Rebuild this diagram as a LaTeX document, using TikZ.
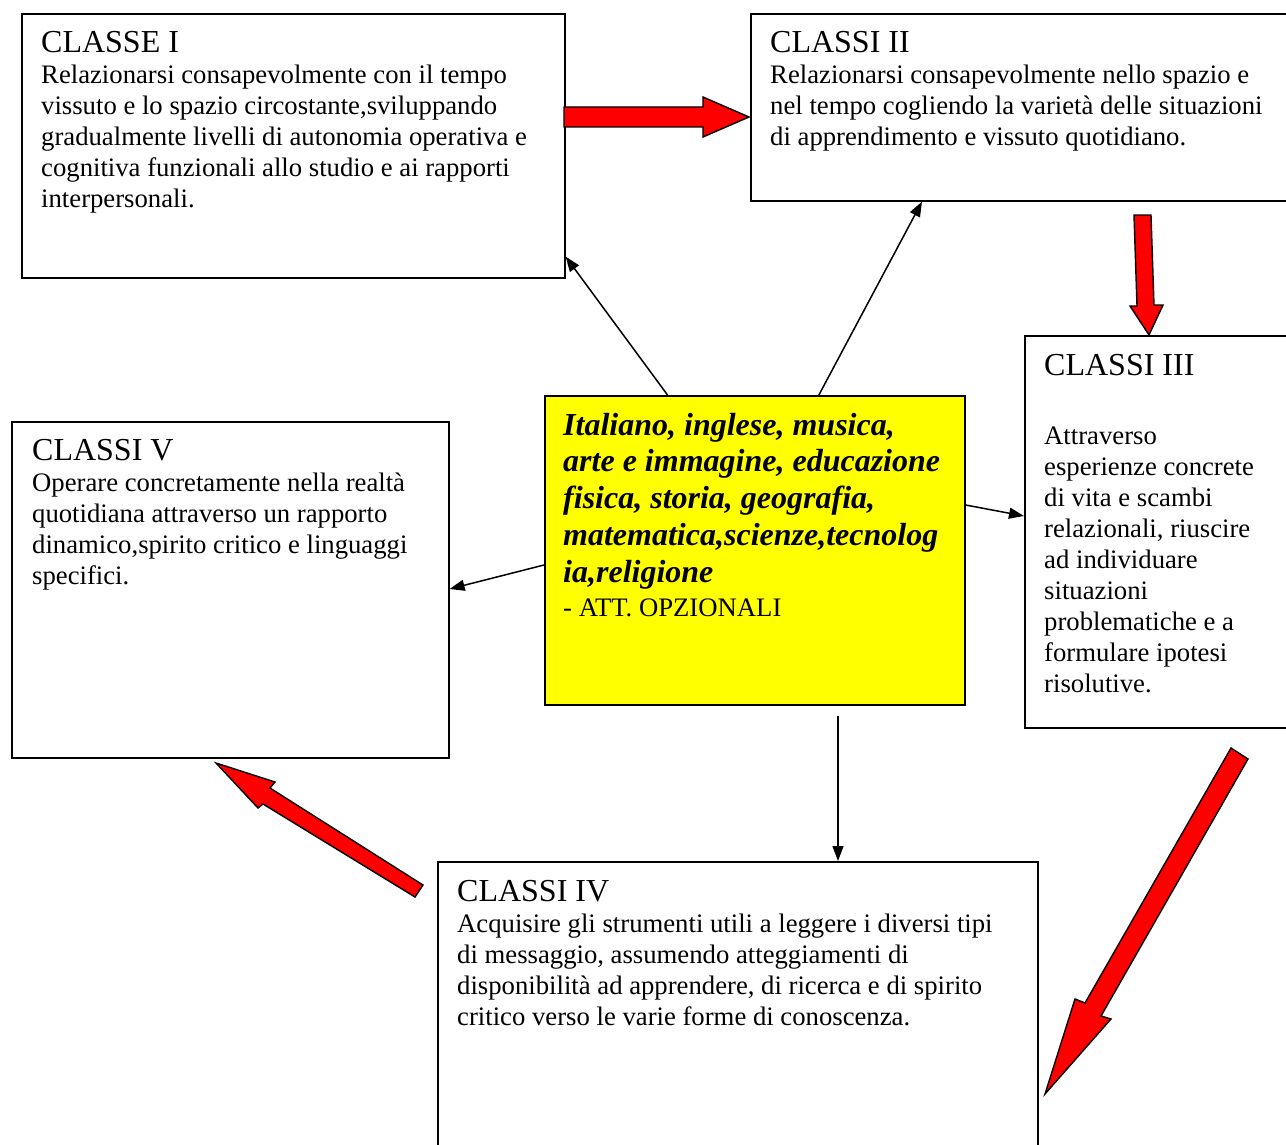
\documentclass[tikz,border=0pt]{standalone}
\usepackage{fontspec}
\setmainfont{Liberation Serif}
\usetikzlibrary{calc,arrows.meta}
\definecolor{subjyellow}{RGB}{255,255,0}
\definecolor{arrowred}{RGB}{255,0,0}
\newcommand{\lines}[1]{\begin{tabular}[t]{@{}l@{}}#1\end{tabular}}
\begin{document}
\begin{tikzpicture}[x=1pt,y=-1pt,
  box/.style={draw=black, line width=1.6pt, anchor=north west, inner sep=0pt, fill=white},
  ttl/.style={anchor=base west, inner sep=0pt, font=\fontsize{32}{36}\selectfont},
  body/.style={anchor=base west, inner sep=0pt, font=\fontsize{26.7}{31}\selectfont},
  subj/.style={anchor=base west, inner sep=0pt, font=\fontsize{32}{36.8}\selectfont\bfseries\itshape},
  link/.style={draw=black, line width=1.5pt, -{Triangle[length=15pt,width=11pt]}},
  block/.style={draw=black, line width=1.4pt, fill=arrowred, line join=miter}]
\useasboundingbox (0,0) rectangle (1286,1145);
\fill[white] (0,0) rectangle (1286,1145);

% boxes
\node[box, minimum width=543pt, minimum height=264pt] (c1) at (21,13) {};
\node[box, minimum width=560pt, minimum height=187pt] (c2) at (750,13) {};
\node[box, minimum width=300pt, minimum height=392pt] (c3) at (1024,335) {};
\node[box, minimum width=437pt, minimum height=336pt] (c5) at (11,421) {};
\node[box, minimum width=600pt, minimum height=320pt] (c4) at (437,861) {};
\node[box, fill=subjyellow, minimum width=420pt, minimum height=309pt] (ctr) at (544,395) {};

% texts
\node[ttl] (t1) at (41,53) {CLASSE I};
\node[body] (b1) at (41,84) {\lines{Relazionarsi consapevolmente con il tempo\\
vissuto e lo spazio circostante,sviluppando\\
gradualmente livelli di autonomia operativa e\\
cognitiva funzionali allo studio e ai rapporti\\
interpersonali.}};

\node[ttl] (t2) at (770,53) {CLASSI II};
\node[body] (b2) at (770,84) {\lines{Relazionarsi consapevolmente nello spazio e\\
nel tempo cogliendo la varietà delle situazioni\\
di apprendimento e vissuto quotidiano.}};

\node[ttl] (t3) at (1044,375) {CLASSI III};
\node[body] (b3) at (1044,444) {\lines{Attraverso\\
esperienze concrete\\
di vita e scambi\\
relazionali, riuscire\\
ad individuare\\
situazioni\\
problematiche e a\\
formulare ipotesi\\
risolutive.}};

\node[ttl] (t5) at (32,460) {CLASSI V};
\node[body] (b5) at (32,491) {\lines{Operare concretamente nella realtà\\
quotidiana attraverso un rapporto\\
dinamico,spirito critico e linguaggi\\
specifici.}};

\node[ttl] (t4) at (457,901) {CLASSI IV};
\node[body] (b4) at (457,932) {\lines{Acquisire gli strumenti utili a leggere i diversi tipi\\
di messaggio, assumendo atteggiamenti di\\
disponibilità ad apprendere, di ricerca e di spirito\\
critico verso le varie forme di conoscenza.}};

\node[subj] (s) at (563,435) {\lines{Italiano, inglese, musica,\\
arte e immagine, educazione\\
fisica, storia, geografia,\\
matematica,scienze,tecnolog\\
ia,religione}};
\node[body] (opt) at (563,616) {- ATT. OPZIONALI};

% connectors from the subject box
\draw[link] ($(ctr.north west)!0.293!(ctr.north east)$) -- ($(c1.south east)+(0,-22)$);
\draw[link] ($(ctr.north west)!0.652!(ctr.north east)$) -- ($(c2.south west)+(172,0)$);
\draw[link] ($(ctr.north east)+(0,110)$) -- ($(c3.north west)+(0,181)$);
\draw[link] ($(ctr.north west)+(0,170)$) -- ($(c5.north east)+(0,168)$);
\draw[link] ($(ctr.south west)+(294,10)$) -- ($(c4.north west)+(401,0)$);

% red block arrows between the classes
\draw[block] (564,107) -- (703,107) -- (703,97) -- (749,117) -- (703,137) -- (703,127) -- (564,127) -- cycle;
\draw[block] (1134,215) -- (1151,215) -- (1154,305) -- (1163,305) -- (1149,335) -- (1130,306) -- (1137,306) -- cycle;
\draw[block] (1231,748) -- (1248,759) -- (1101,1016) -- (1111,1019) -- (1045,1094) -- (1075,999) -- (1085,1003) -- cycle;
\draw[block] (216,763) -- (275,782) -- (270,788) -- (423,885) -- (415,897) -- (263,804) -- (258,808) -- cycle;
\end{tikzpicture}
\end{document}
